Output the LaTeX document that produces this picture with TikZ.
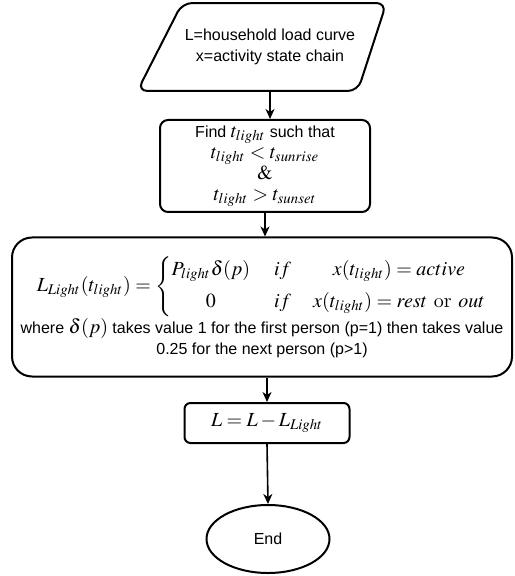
\documentclass[tikz,border=0pt]{standalone}
\usepackage{mathptmx}
\usepackage[no-math]{fontspec}
\setmainfont{Liberation Sans}
\usetikzlibrary{shapes.geometric,arrows.meta}
\begin{document}
\begin{tikzpicture}[x=.5pt, y=-.5pt, font=\fontsize{8}{10.5}\selectfont, line join=round, >={Stealth[length=5pt,width=4.5pt,inset=1.5pt]},
	box/.style={draw, line width=1pt, align=center, inner sep=0pt},
	flow/.style={->, line width=.8pt}]
	\def\mth#1{{\fontsize{10}{12}\selectfont$#1$}}
	\def\tm#1{\mbox{\fontfamily{ptm}\selectfont#1}}
	\useasboundingbox (0,0) rectangle (514,576);
	\node[box, trapezium, trapezium left angle=63, trapezium right angle=108, trapezium stretches body=true,
		inner ysep=13pt, minimum width=124.5pt, rounded corners=5pt] (in) at (270,47) {L=household load curve\\x=activity state chain};
	\node[box, rounded corners=4pt, minimum width=105pt, minimum height=46pt] (find) at (265,166)
		{Find \mth{t_{light}} such that\\\mth{t_{light} < t_{sunrise}}\\\mth{\&}\\\mth{t_{light} > t_{sunset}}};
	\node[box, rounded corners=10pt, minimum width=250pt, minimum height=69.5pt] (light) at (262,307)
		{\mth{L_{Light}(t_{light}) = \left\{\begin{array}{@{}c@{\hspace{12pt}}c@{\hspace{11pt}}c@{}}
			P_{light}\delta(p) & if & x(t_{light}) = active\\[4pt]
			0 & if & x(t_{light}) = rest\tm{ or }out
		\end{array}\right.}\\
		where \mth{\delta(p)} takes value 1 for the first person (p=1) then takes value\\
		0.25 for the next person (p>1)};
	\node[box, rounded corners=3pt, minimum width=82.5pt, minimum height=20pt] (upd) at (267,423) {\mth{L = L - L_{Light}}};
	\node[box, ellipse, minimum width=61.5pt, minimum height=34pt] (end) at (268,539) {End};
	% connectors
	\draw[flow] (in.south) -- (in.south |- find.north);
	\draw[flow] (find.south) -- (find.south |- light.north);
	\draw[flow] (upd.north |- light.south) -- (upd.north);
	\draw[flow] (upd.south) -- (end.north);
\end{tikzpicture}
\end{document}
